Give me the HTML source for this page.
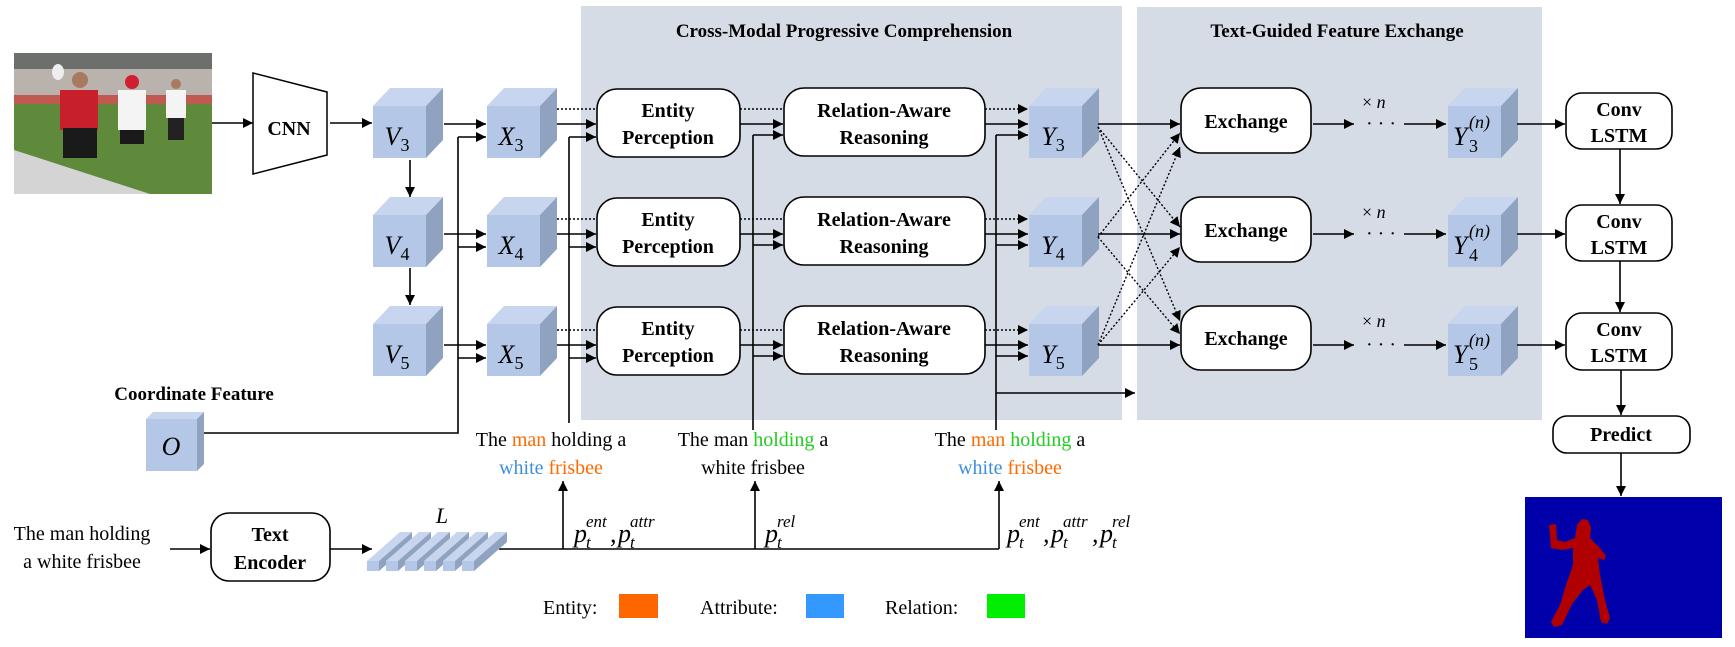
<!DOCTYPE html>
<html><head><meta charset="utf-8"><style>
html,body{margin:0;padding:0;background:#fff;}
svg{display:block;}
.s{font-family:"Liberation Serif",serif;}
.b{font-family:"Liberation Serif",serif;font-weight:bold;}
.i{font-family:"Liberation Serif",serif;font-style:italic;}
.u{font-style:normal;}
</style></head><body>
<svg width="1735" height="647" viewBox="0 0 1735 647" xmlns="http://www.w3.org/2000/svg">
<defs>
<marker id="a" viewBox="0 0 10 10" refX="10" refY="5" markerWidth="10" markerHeight="10" markerUnits="userSpaceOnUse" orient="auto"><path d="M0,0 L10,5 L0,10 z" fill="#000"/></marker>
<g id="cube"><rect x="0" y="0" width="53" height="52" fill="#b4c7e7"/><polygon points="0,0 17,-18 70,-18 53,0" fill="#c7d5ee"/><polygon points="53,0 70,-18 70,34 53,52" fill="#8fa2bf"/></g>
</defs>
<rect x="581" y="6" width="541" height="414" fill="#d6dce6"/>
<rect x="1137" y="7" width="405" height="413" fill="#d6dce6"/>
<text class="b" x="844" y="37" font-size="19" text-anchor="middle">Cross-Modal Progressive Comprehension</text>
<text class="b" x="1337" y="37" font-size="19" text-anchor="middle">Text-Guided Feature Exchange</text>

<rect x="14" y="53" width="198" height="141" fill="#5f8a3c"/>
<rect x="14" y="53" width="198" height="16" fill="#6d6f6c"/>
<rect x="14" y="69" width="198" height="26" fill="#b9b2ad"/>
<rect x="14" y="95" width="198" height="9" fill="#c05a50"/>
<polygon points="14,150 14,194 150,194" fill="#d4d4d4"/>
<rect x="60" y="90" width="38" height="40" fill="#c8202a"/><rect x="63" y="128" width="34" height="30" fill="#1a1a1a"/>
<circle cx="80" cy="80" r="8" fill="#a87a60"/><ellipse cx="58" cy="72" rx="6" ry="8" fill="#eee"/>
<rect x="118" y="90" width="28" height="40" fill="#f4f4f4"/><circle cx="132" cy="82" r="7" fill="#d02030"/><rect x="120" y="130" width="24" height="14" fill="#1a1a1a"/>
<rect x="166" y="90" width="20" height="28" fill="#f4f4f4"/><rect x="168" y="118" width="16" height="22" fill="#222"/><circle cx="176" cy="84" r="5" fill="#a87a60"/>

<polygon points="253,73 327,92 327,155 253,174" fill="#fff" stroke="#000" stroke-width="1.5"/>
<text class="b" x="289" y="135" font-size="20" text-anchor="middle">CNN</text>
<g stroke="#000" stroke-width="1.6" fill="none">
<line x1="212" y1="123" x2="253" y2="123" marker-end="url(#a)"/>
<line x1="330" y1="123" x2="372" y2="123" marker-end="url(#a)"/>
<line x1="410" y1="160" x2="410" y2="197" marker-end="url(#a)"/>
<line x1="410" y1="268" x2="410" y2="305" marker-end="url(#a)"/>
</g>

<use href="#cube" x="373" y="106"/><use href="#cube" x="373" y="215"/><use href="#cube" x="373" y="324"/>
<use href="#cube" x="487" y="106"/><use href="#cube" x="487" y="215"/><use href="#cube" x="487" y="324"/>
<use href="#cube" x="1029" y="106"/><use href="#cube" x="1029" y="215"/><use href="#cube" x="1029" y="324"/>
<use href="#cube" x="1448" y="106"/><use href="#cube" x="1448" y="215"/><use href="#cube" x="1448" y="324"/>
<g class="i" font-size="26" text-anchor="middle">
<text x="397" y="145">V<tspan class="u" font-size="18" dy="6">3</tspan></text>
<text x="397" y="254">V<tspan class="u" font-size="18" dy="6">4</tspan></text>
<text x="397" y="363">V<tspan class="u" font-size="18" dy="6">5</tspan></text>
<text x="511" y="145">X<tspan class="u" font-size="18" dy="6">3</tspan></text>
<text x="511" y="254">X<tspan class="u" font-size="18" dy="6">4</tspan></text>
<text x="511" y="363">X<tspan class="u" font-size="18" dy="6">5</tspan></text>
<text x="1053" y="145">Y<tspan class="u" font-size="18" dy="6">3</tspan></text>
<text x="1053" y="254">Y<tspan class="u" font-size="18" dy="6">4</tspan></text>
<text x="1053" y="363">Y<tspan class="u" font-size="18" dy="6">5</tspan></text>
</g>
<g class="i" font-size="26">
<text x="1453" y="145">Y</text><text class="u" x="1469" y="152" font-size="18">3</text><text x="1469" y="128" font-size="18">(n)</text>
<text x="1453" y="254">Y</text><text class="u" x="1469" y="261" font-size="18">4</text><text x="1469" y="237" font-size="18">(n)</text>
<text x="1453" y="363">Y</text><text class="u" x="1469" y="370" font-size="18">5</text><text x="1469" y="346" font-size="18">(n)</text>
</g>

<rect x="146" y="419" width="51" height="52" fill="#b4c7e7"/>
<polygon points="146,419 153,412 204,412 197,419" fill="#c7d5ee"/>
<polygon points="197,419 204,412 204,464 197,471" fill="#8fa2bf"/>
<text class="i" x="171" y="455" font-size="26" text-anchor="middle">O</text>
<text class="b" x="194" y="400" font-size="19" text-anchor="middle">Coordinate Feature</text>

<g fill="#fff" stroke="#000" stroke-width="1.6">
<rect x="597" y="89" width="143" height="68" rx="20"/><rect x="597" y="198" width="143" height="68" rx="20"/><rect x="597" y="307" width="143" height="68" rx="20"/>
<rect x="784" y="88" width="201" height="68" rx="20"/><rect x="784" y="197" width="201" height="68" rx="20"/><rect x="784" y="306" width="201" height="68" rx="20"/>
<rect x="1181" y="88" width="130" height="65" rx="20"/><rect x="1181" y="197" width="130" height="65" rx="20"/><rect x="1181" y="306" width="130" height="64" rx="20"/>
<rect x="1566" y="93" width="106" height="56" rx="16"/><rect x="1566" y="205" width="106" height="56" rx="16"/><rect x="1566" y="313" width="106" height="57" rx="16"/>
<rect x="1553" y="416" width="137" height="37" rx="14"/>
<rect x="211" y="513" width="119" height="68" rx="18"/>
</g>
<g class="b" font-size="20" text-anchor="middle">
<text x="668" y="117">Entity</text><text x="668" y="144">Perception</text>
<text x="668" y="226">Entity</text><text x="668" y="253">Perception</text>
<text x="668" y="335">Entity</text><text x="668" y="362">Perception</text>
<text x="884" y="117">Relation-Aware</text><text x="884" y="144">Reasoning</text>
<text x="884" y="226">Relation-Aware</text><text x="884" y="253">Reasoning</text>
<text x="884" y="335">Relation-Aware</text><text x="884" y="362">Reasoning</text>
<text x="1246" y="128">Exchange</text><text x="1246" y="237">Exchange</text><text x="1246" y="345">Exchange</text>
<text x="1619" y="116">Conv</text><text x="1619" y="142">LSTM</text>
<text x="1619" y="228">Conv</text><text x="1619" y="254">LSTM</text>
<text x="1619" y="336">Conv</text><text x="1619" y="362">LSTM</text>
<text x="1621" y="441">Predict</text>
<text x="270" y="541">Text</text><text x="270" y="569">Encoder</text>
</g>

<g stroke="#000" stroke-width="1.6" fill="none">
<polyline points="204,433 458,433 458,137"/>
<line x1="569" y1="423" x2="569" y2="137"/>
<line x1="753" y1="430" x2="753" y2="135"/>
<line x1="996" y1="430" x2="996" y2="135"/>
<line x1="996" y1="393" x2="1135" y2="393" marker-end="url(#a)"/>
</g>
<g stroke="#000" stroke-width="1.6" fill="none" id="rowconn">
<line x1="444" y1="124" x2="486" y2="124" marker-end="url(#a)"/>
<line x1="458" y1="137" x2="486" y2="137" marker-end="url(#a)"/>
<line x1="557" y1="124" x2="596" y2="124" marker-end="url(#a)"/>
<line x1="569" y1="137" x2="596" y2="137" marker-end="url(#a)"/>
<line x1="557" y1="109" x2="597" y2="109" stroke-dasharray="2,2"/>
<line x1="740" y1="124" x2="783" y2="124" marker-end="url(#a)"/>
<line x1="753" y1="135" x2="783" y2="135" marker-end="url(#a)"/>
<line x1="740" y1="109" x2="784" y2="109" stroke-dasharray="2,2"/>
<line x1="985" y1="109" x2="1028" y2="109" stroke-dasharray="2,2" marker-end="url(#a)"/>
<line x1="985" y1="124" x2="1028" y2="124" marker-end="url(#a)"/>
<line x1="996" y1="135" x2="1028" y2="135" marker-end="url(#a)"/>
<line x1="1098" y1="124" x2="1180" y2="124" marker-end="url(#a)"/>
<line x1="1313" y1="124" x2="1354" y2="124" marker-end="url(#a)"/>
<line x1="1404" y1="124" x2="1446" y2="124" marker-end="url(#a)"/>
<line x1="1517" y1="124" x2="1565" y2="124" marker-end="url(#a)"/>
</g>
<use href="#rowconn" y="110"/>
<use href="#rowconn" y="221"/>
<g font-family="Liberation Serif,serif" font-size="20">
<text x="1366" y="130">· · ·</text><text x="1366" y="240">· · ·</text><text x="1366" y="351">· · ·</text>
<text x="1362" y="108" font-size="18">× <tspan font-style="italic">n</tspan></text>
<text x="1362" y="218" font-size="18">× <tspan font-style="italic">n</tspan></text>
<text x="1362" y="327" font-size="18">× <tspan font-style="italic">n</tspan></text>
</g>
<g stroke="#000" stroke-width="1.4" fill="none" stroke-dasharray="2,2" marker-end="url(#a)">
<line x1="1098" y1="127" x2="1180" y2="227"/>
<line x1="1098" y1="127" x2="1180" y2="321"/>
<line x1="1098" y1="237" x2="1180" y2="133"/>
<line x1="1098" y1="237" x2="1180" y2="334"/>
<line x1="1098" y1="345" x2="1180" y2="147"/>
<line x1="1098" y1="345" x2="1180" y2="247"/>
</g>
<g stroke="#000" stroke-width="1.6" fill="none" marker-end="url(#a)">
<line x1="1620" y1="149" x2="1620" y2="204"/>
<line x1="1620" y1="261" x2="1620" y2="312"/>
<line x1="1621" y1="370" x2="1621" y2="415"/>
<line x1="1621" y1="453" x2="1621" y2="496"/>
</g>

<rect x="1525" y="497" width="197" height="141" fill="#0000aa"/>
<path d="M1549,525 L1556,524 L1557,540 L1565,542 L1575,538 L1577,525 L1582,519 L1588,520 L1591,528 L1590,538 L1599,547 L1606,556 L1604,560 L1598,558 L1600,575 L1605,600 L1610,618 L1607,624 L1601,622 L1597,600 L1590,585 L1583,590 L1572,604 L1562,625 L1554,627 L1551,622 L1560,605 L1566,585 L1573,565 L1573,548 L1562,550 L1551,548 Z" fill="#b00000"/>

<g class="s" font-size="20" text-anchor="middle">
<text x="82" y="540">The man holding</text><text x="82" y="568">a white frisbee</text>
<text x="551" y="446">The <tspan fill="#ff6a00">man</tspan> holding a</text>
<text x="551" y="474"><tspan fill="#3d8fdc">white</tspan> <tspan fill="#ff6a00">frisbee</tspan></text>
<text x="753" y="446">The man <tspan fill="#22cc22">holding</tspan> a</text>
<text x="753" y="474">white frisbee</text>
<text x="1010" y="446">The <tspan fill="#ff6a00">man</tspan> <tspan fill="#22cc22">holding</tspan> a</text>
<text x="1010" y="474"><tspan fill="#3d8fdc">white</tspan> <tspan fill="#ff6a00">frisbee</tspan></text>
</g>
<g stroke="#000" stroke-width="1.6" fill="none">
<line x1="170" y1="549" x2="210" y2="549" marker-end="url(#a)"/>
<line x1="330" y1="549" x2="372" y2="549" marker-end="url(#a)"/>
<line x1="499" y1="549" x2="999" y2="549"/>
<line x1="563" y1="549" x2="563" y2="481" marker-end="url(#a)"/>
<line x1="755" y1="549" x2="755" y2="481" marker-end="url(#a)"/>
<line x1="999" y1="549" x2="999" y2="481" marker-end="url(#a)"/>
</g>
<g>
<g id="slab"><polygon points="367,561 379,561 412,532 400,532" fill="#c7d5ee"/><polygon points="379,561 412,532 412,542 379,571" fill="#8fa2bf"/><rect x="367" y="561" width="12" height="10" fill="#b4c7e7"/></g>
<use href="#slab" x="19"/><use href="#slab" x="38"/><use href="#slab" x="57"/><use href="#slab" x="76"/><use href="#slab" x="95"/>
</g>
<text class="i" x="442" y="523" font-size="22" text-anchor="middle">L</text>
<g class="i" font-size="26">
<text x="574" y="542">p</text><text x="586" y="548" font-size="17">t</text><text x="586" y="527" font-size="17">ent</text>
<text x="610" y="542">,</text>
<text x="618" y="542">p</text><text x="630" y="548" font-size="17">t</text><text x="630" y="527" font-size="17">attr</text>
<text x="765" y="542">p</text><text x="777" y="548" font-size="17">t</text><text x="777" y="527" font-size="17">rel</text>
<text x="1007" y="542">p</text><text x="1019" y="548" font-size="17">t</text><text x="1019" y="527" font-size="17">ent</text>
<text x="1043" y="542">,</text>
<text x="1051" y="542">p</text><text x="1063" y="548" font-size="17">t</text><text x="1063" y="527" font-size="17">attr</text>
<text x="1092" y="542">,</text>
<text x="1100" y="542">p</text><text x="1112" y="548" font-size="17">t</text><text x="1112" y="527" font-size="17">rel</text>
</g>
<g class="s" font-size="20">
<text x="543" y="614">Entity:</text><rect x="619" y="594" width="39" height="24" fill="#ff6600"/>
<text x="700" y="614">Attribute:</text><rect x="806" y="594" width="38" height="24" fill="#3399ff"/>
<text x="885" y="614">Relation:</text><rect x="987" y="594" width="38" height="24" fill="#00ee00"/>
</g>
</svg>
</body></html>
